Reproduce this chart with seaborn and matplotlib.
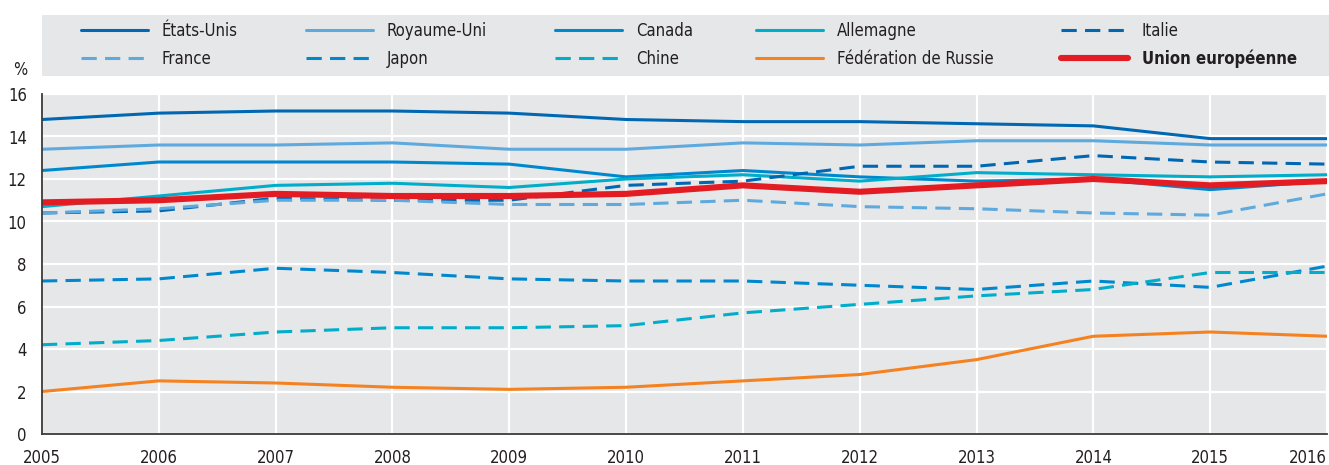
import matplotlib
matplotlib.use("Agg")
import matplotlib.pyplot as plt
from matplotlib.patches import Rectangle
import seaborn as sns
import pandas as pd

years = list(range(2005, 2017))
etats_unis = [14.8, 15.1, 15.2, 15.2, 15.1, 14.8, 14.7, 14.7, 14.6, 14.5, 13.9, 13.9]
royaume_uni = [13.4, 13.6, 13.6, 13.7, 13.4, 13.4, 13.7, 13.6, 13.8, 13.8, 13.6, 13.6]
canada = [12.4, 12.8, 12.8, 12.8, 12.7, 12.1, 12.4, 12.1, 11.9, 12.0, 11.5, 11.9]
allemagne = [10.7, 11.2, 11.7, 11.8, 11.6, 12.0, 12.2, 11.9, 12.3, 12.2, 12.1, 12.2]
italie = [10.4, 10.5, 11.1, 11.0, 11.0, 11.7, 11.9, 12.6, 12.6, 13.1, 12.8, 12.7]
france = [10.4, 10.6, 11.0, 11.0, 10.8, 10.8, 11.0, 10.7, 10.6, 10.4, 10.3, 11.3]
japon = [7.2, 7.3, 7.8, 7.6, 7.3, 7.2, 7.2, 7.0, 6.8, 7.2, 6.9, 7.9]
chine = [4.2, 4.4, 4.8, 5.0, 5.0, 5.1, 5.7, 6.1, 6.5, 6.8, 7.6, 7.6]
russie = [2.0, 2.5, 2.4, 2.2, 2.1, 2.2, 2.5, 2.8, 3.5, 4.6, 4.8, 4.6]
ue = [10.9, 11.0, 11.3, 11.2, 11.2, 11.3, 11.7, 11.4, 11.7, 12.0, 11.7, 11.9]

series = {
    "États-Unis": etats_unis,
    "Royaume-Uni": royaume_uni,
    "Canada": canada,
    "Allemagne": allemagne,
    "Italie": italie,
    "France": france,
    "Japon": japon,
    "Chine": chine,
    "Fédération de Russie": russie,
    "Union européenne": ue,
}
# legend grid as printed (rows of 5)
legend_rows = [["États-Unis", "Royaume-Uni", "Canada", "Allemagne", "Italie"],
               ["France", "Japon", "Chine", "Fédération de Russie", "Union européenne"]]

dark = "#0068b3"
light = "#5eaadf"
mid = "#0088cf"
cyan = "#00adca"
palette = {"États-Unis": dark, "Royaume-Uni": light, "Canada": mid, "Allemagne": cyan,
           "Italie": dark, "France": light, "Japon": mid, "Chine": cyan,
           "Fédération de Russie": "#f58220", "Union européenne": "#e31b23"}
dash = (5, 2.7)
dashes = {k: "" for k in series}
for k in ["Italie", "France", "Japon", "Chine"]:
    dashes[k] = dash
sizes = {k: 2.2 for k in series}
sizes["Union européenne"] = 4.4

rows = []
for name, vals in series.items():
    for y, v in zip(years, vals):
        rows.append({"année": y, "valeur": v, "pays": name})
df = pd.DataFrame(rows)

sns.set_theme(style="white")
plt.rcParams["font.family"] = ["DejaVu Sans Condensed", "Liberation Sans Narrow", "DejaVu Sans"]
plt.rcParams["font.stretch"] = "condensed"
txt = "#231f20"
plt.rcParams["text.color"] = txt
fs = 12

fig = plt.figure(figsize=(13.29, 4.65), dpi=100)
ax = fig.add_axes([42 / 1329, 1 - 434 / 465, 1285 / 1329, 340 / 465])
ax.set_facecolor("#e6e7e8")

order = list(series.keys())
sns.lineplot(data=df, x="année", y="valeur", hue="pays", style="pays", size="pays",
             hue_order=order, style_order=order, size_order=order,
             palette=palette, dashes=dashes, sizes=sizes, legend=False, ax=ax)

ax.set_xlim(2005, 2016)
ax.set_ylim(0, 16)
ax.set_xticks(years)
ax.set_yticks(range(0, 17, 2))
ax.grid(True, color="white", lw=1.6)
ax.set_axisbelow(True)
for s in ["top", "right"]:
    ax.spines[s].set_visible(False)
for s in ["left", "bottom"]:
    ax.spines[s].set_color("#3a3a3a")
    ax.spines[s].set_linewidth(1.3)
ax.tick_params(axis="both", direction="in", length=5, width=1, color="#8a8a8a",
               labelsize=fs, labelcolor=txt, pad=11)
ax.set_xlabel("")
ax.set_ylabel("")
labels = ax.get_xticklabels()
labels[-1].set_horizontalalignment("right")

ax.text(-0.017, 1.07, "%", transform=ax.transAxes, fontsize=fs, ha="center", va="center")

# legend panel
fig.add_artist(Rectangle((42 / 1329, 1 - 76 / 465), 1 - 42 / 1329, 61 / 465,
                         transform=fig.transFigure, facecolor="#e6e7e8", edgecolor="none", zorder=0))
line_by_name = dict(zip(order, ax.lines))
col_x = [81, 306, 555, 756, 1061]
for i, x in enumerate(col_x):
    names = [legend_rows[0][i], legend_rows[1][i]]
    leg = fig.legend([line_by_name[n] for n in names], names, loc="center left",
                     bbox_to_anchor=(x / 1329, 1 - 45 / 465), frameon=False,
                     borderpad=0, borderaxespad=0, handlelength=4.0, handletextpad=0.85,
                     labelspacing=0.6, fontsize=fs)
    for t in leg.get_texts():
        if t.get_text() == "Union européenne":
            t.set_fontweight("bold")

fig.savefig("out.png", dpi=100)
